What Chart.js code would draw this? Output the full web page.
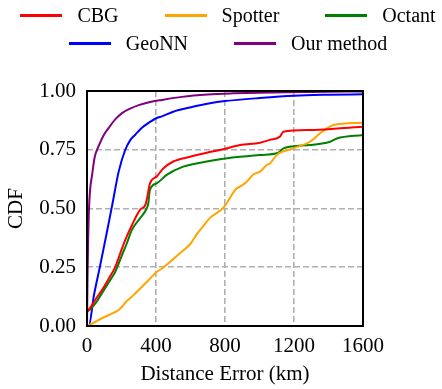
<!DOCTYPE html>
<html>
<head>
<meta charset="utf-8">
<script src="https://cdn.jsdelivr.net/npm/chart.js@4"></script>
<style>
html,body{margin:0;padding:0;background:#fff;}
#wrap{position:relative;width:442px;height:389px;}
#legend{position:absolute;left:0;top:1px;width:442px;padding-left:14px;box-sizing:border-box;
font-family:"Liberation Serif","Times New Roman",serif;font-size:20px;color:#000;}
.row{display:flex;justify-content:center;column-gap:46px;height:28px;align-items:center;}
.item{display:flex;align-items:center;}
.swatch{width:42px;height:3px;margin-right:15px;}
</style>
</head>
<body>
<div id="wrap">
<canvas id="cdf" width="442" height="389"></canvas>
<div id="legend"></div>
</div>
<script>
// -----------------------------
// DATA (km, CDF)
// -----------------------------
const seriesNames = ["CBG","Spotter","Octant","GeoNN","Our method"];
const seriesColors = ["#ff0000","#ffa500","#008000","#0000ff","#800080"];

const cbgKm  = [0,30,56,87,125,164,203,230,261,307,338,346,365,404,442,500,597,700,790,887,1003,1060,1119,1138,1293,1450,1600];
const cbgCdf = [0.06,0.09,0.12,0.153,0.2,0.252,0.33,0.38,0.43,0.494,0.515,0.536,0.607,0.636,0.67,0.7,0.72,0.738,0.752,0.77,0.78,0.792,0.806,0.827,0.834,0.84,0.848];

const spotterKm  = [0,29,87,150,184,212,222,260,300,357,404,435,539,600,636,674,713,790,868,887,926,964,1003,1042,1061,1100,1196,1293,1351,1390,1428,1600];
const spotterCdf = [0,0.01,0.033,0.055,0.068,0.09,0.1,0.125,0.153,0.196,0.23,0.245,0.31,0.35,0.39,0.425,0.46,0.503,0.586,0.593,0.614,0.645,0.657,0.685,0.692,0.728,0.756,0.784,0.82,0.84,0.855,0.865];

const octantKm  = [0,30,56,87,153,164,203,230,261,307,346,355,365,404,462,558,694,771,887,1003,1100,1119,1138,1293,1409,1448,1600];
const octantCdf = [0.06,0.08,0.103,0.14,0.217,0.231,0.302,0.35,0.41,0.458,0.5,0.52,0.58,0.607,0.643,0.678,0.7,0.71,0.72,0.728,0.735,0.742,0.756,0.77,0.784,0.798,0.813];

const geonnKm  = [0,10,40,77,110,145,184,222,250,280,320,357,404,435,500,597,713,800,1000,1200,1400,1600];
const geonnCdf = [0,0,0.13,0.26,0.38,0.51,0.658,0.75,0.79,0.814,0.845,0.864,0.885,0.892,0.912,0.93,0.948,0.957,0.97,0.98,0.984,0.986];

const oursKm  = [0,3,7,11,18,29,45,68,95,126,165,203,250,300,360,435,550,700,850,1000,1300,1600];
const oursCdf = [0,0.2,0.38,0.49,0.58,0.64,0.72,0.766,0.81,0.843,0.88,0.906,0.925,0.94,0.952,0.962,0.975,0.985,0.99,0.993,0.996,0.998];

const xTicks = [0,400,800,1200,1600];
const yTicks = [0,0.25,0.5,0.75,1];

// -----------------------------
// HELPERS
// -----------------------------
function pairs(xs,ys){
return xs.map((x,i)=>({x:x,y:ys[i]}));
}

const allKm  = [cbgKm,spotterKm,octantKm,geonnKm,oursKm];
const allCdf = [cbgCdf,spotterCdf,octantCdf,geonnCdf,oursCdf];

const datasets = seriesNames.map((name,i)=>({
label:name,
data:pairs(allKm[i],allCdf[i]),
borderColor:seriesColors[i],
backgroundColor:seriesColors[i],
borderWidth:2,
pointRadius:0,
cubicInterpolationMode:"monotone",
fill:false
}));

// frame around the plot area
const frame = {
id:"frame",
afterDatasetsDraw(chart){
const a = chart.chartArea, c = chart.ctx;
c.save();
c.strokeStyle = "#000";
c.lineWidth = 2;
c.strokeRect(a.left,a.top,a.right-a.left,a.bottom-a.top);
c.restore();
}
};

const font = {family:"'Liberation Serif','Times New Roman',serif",size:21};

function innerOnly(ctx){
const v = ctx.tick ? ctx.tick.value : null;
return (v===null || v===ctx.scale.min || v===ctx.scale.max) ? "rgba(0,0,0,0)" : "#b0b0b0";
}

// -----------------------------
// CHART
// -----------------------------
new Chart(document.getElementById("cdf"),{
type:"line",
data:{datasets:datasets},
plugins:[frame],
options:{
responsive:false,
animation:false,
layout:{padding:{top:91,right:79,bottom:0,left:0}},
plugins:{legend:{display:false},tooltip:{enabled:false}},
scales:{
x:{
type:"linear",min:0,max:1600,
afterBuildTicks(s){ s.ticks = xTicks.map(v=>({value:v})); },
afterFit(s){ s.height = 63; },
ticks:{color:"#000",font:font,padding:8,maxRotation:0,callback:v=>String(v)},
grid:{color:innerOnly,lineWidth:1.6,drawTicks:false},
border:{display:false,dash:[6,3]},
title:{display:true,text:"Distance Error (km)",color:"#000",font:font,padding:{top:0,bottom:2}}
},
y:{
type:"linear",min:0,max:1,
afterBuildTicks(s){ s.ticks = yTicks.map(v=>({value:v})); },
afterFit(s){ s.width = 87; },
ticks:{color:"#000",font:font,padding:11,callback:v=>Number(v).toFixed(2)},
grid:{color:innerOnly,lineWidth:1.6,drawTicks:false},
border:{display:false,dash:[6,3]},
title:{display:true,text:"CDF",color:"#000",font:font,padding:{top:4,bottom:0}}
}
}
}
});

// -----------------------------
// LEGEND (two centred rows)
// -----------------------------
const legendRows = [[0,1,2],[3,4]];
const legendBox = document.getElementById("legend");
legendRows.forEach(row=>{
const r = document.createElement("div");
r.className = "row";
row.forEach(i=>{
const it = document.createElement("div");
it.className = "item";
it.innerHTML = `<span class="swatch" style="background:${seriesColors[i]}"></span><span>${seriesNames[i]}</span>`;
r.appendChild(it);
});
legendBox.appendChild(r);
});
</script>
</body>
</html>
